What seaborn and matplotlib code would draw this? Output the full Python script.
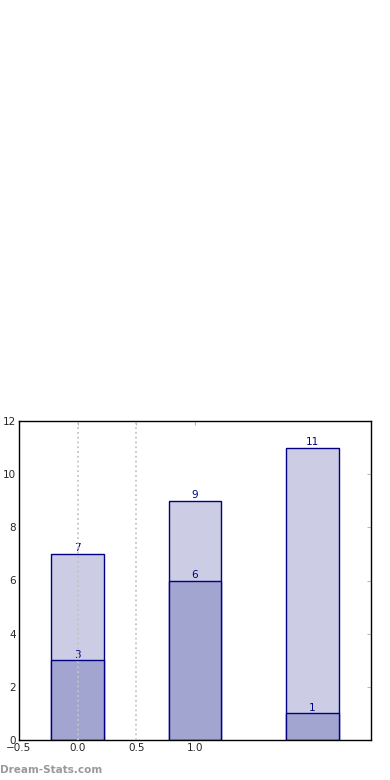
import matplotlib
matplotlib.use('Agg')
import matplotlib.pyplot as plt
import seaborn as sns

# bar values
positions = [0, 1, 2]
totals = [7, 9, 11]
lower = [3, 6, 1]
xtick_values = [-0.5, 0.0, 0.5, 1.0]
grid_at = [0.0, 0.5]

light_col = '#cccce4'
dark_col = '#a3a5d1'
edge_col = '#000080'

sns.set_style('white')
plt.rcParams['font.family'] = ['DejaVu Sans']

fig = plt.figure(figsize=(3.9, 7.8), dpi=100)
ax = fig.add_axes([19 / 390, 40 / 780, 352 / 390, 319 / 780])

# upper (total) bars first, then the lower part on top
sns.barplot(x=positions, y=totals, color=light_col, width=0.45,
            edgecolor=edge_col, linewidth=1, saturation=1, ax=ax, zorder=2)
sns.barplot(x=positions, y=lower, color=dark_col, width=0.45,
            edgecolor=edge_col, linewidth=1, saturation=1, ax=ax, zorder=2)

for cont in ax.containers:
    ax.bar_label(cont, color=edge_col, fontsize=7.5, padding=0.5)

# dotted guide lines (drawn over the bars like the original)
for gx in grid_at:
    ax.axvline(gx, linestyle=':', color='#c4c4c4', linewidth=1.3, zorder=3)

ax.set_xlim(-0.5, 2.5)
ax.set_ylim(0, 12)
ax.set_xticks(xtick_values)
ax.set_xticklabels(['\u22120.5', '0.0', '0.5', '1.0'])
ax.set_yticks(range(0, 13, 2))
ax.tick_params(direction='in', length=3, labelsize=7.5, color='#bbbbbb',
               top=True, right=True, pad=2)
for sp in ax.spines.values():
    sp.set_color('black')
    sp.set_linewidth(1)

fig.text(0.0, 0.006, 'Dream-Stats.com', color='#999999', fontsize=7.5,
         fontweight='bold', ha='left', va='bottom')

fig.savefig('out.png', dpi=100)
